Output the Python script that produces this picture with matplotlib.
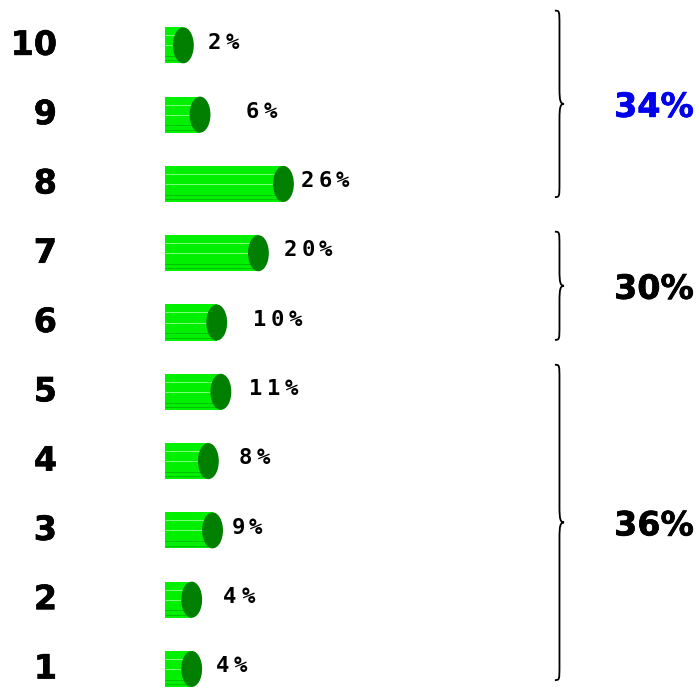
import matplotlib
matplotlib.use("Agg")
import matplotlib.pyplot as plt
import matplotlib.patheffects as pe
from matplotlib.patches import Rectangle, Ellipse, PathPatch
from matplotlib.path import Path
from matplotlib.font_manager import FontProperties

# data
rows = [1, 2, 3, 4, 5, 6, 7, 8, 9, 10]
values = [4, 4, 9, 8, 11, 10, 20, 26, 6, 2]
groups = [(8, 10), (6, 7), (1, 5)]
group_colors = ["#0000ee", "black", "black"]

# layout: extra gap between cylinder and its label, in value units
label_gap = [3.2, 5.1, 2.0, 4.7, 4.3, 6.1, 3.5, 1.6, 8.4, 3.3]
# layout: how far each brace reaches below / above its group (rows)
brace_pad = [(0.19, 0.5), (0.25, 0.31), (0.16, 0.39)]

BODY = "#00f000"
LIGHT = "#7dff7d"
DARK = "#00c000"
CAP = "#007f00"
bar_h = 0.52
cap_w = 5.0

big = FontProperties(family="DejaVu Sans", weight="bold", size=24)
small = FontProperties(family="DejaVu Sans Mono", weight="bold", size=16)


def heavy(color, lw):
    return [pe.withStroke(linewidth=lw, foreground=color)]


def draw_cylinder(ax, row, val):
    y0 = row - bar_h / 2
    ax.add_patch(Rectangle((-cap_w / 2, y0), val + cap_w / 2, bar_h,
                           facecolor=BODY, edgecolor="none", zorder=2))
    for f, c in [(0.22, LIGHT), (0.5, LIGHT), (0.8, DARK), (0.92, DARK)]:
        ax.plot([-cap_w / 2, val], [y0 + bar_h * (1 - f)] * 2, color=c,
                lw=0.7, zorder=3, solid_capstyle="butt")
    ax.add_patch(Ellipse((val, row), cap_w, bar_h, facecolor=CAP,
                         edgecolor="none", zorder=4))


def draw_spaced(ax, x, y, text, stride=12.8):
    for i, ch in enumerate(text):
        ax.annotate(ch, (x, y), xytext=(i * stride, 0), textcoords="offset points",
                    ha="left", va="center", fontproperties=small)


def draw_brace(ax, x, y0, y1, w=2.2):
    xe, xs, xt = x, x + w * 0.5, x + w
    ym = (y0 + y1) / 2
    d = 0.22
    verts = [(xe, y1), (xs, y1), (xs, y1), (xs, y1 - d),
             (xs, ym + d),
             (xs, ym + 0.05), (xs + 0.2, ym), (xt, ym),
             (xs + 0.2, ym), (xs, ym - 0.05), (xs, ym - d),
             (xs, y0 + d),
             (xs, y0), (xs, y0), (xe, y0)]
    codes = [Path.MOVETO, Path.CURVE4, Path.CURVE4, Path.CURVE4,
             Path.LINETO,
             Path.CURVE4, Path.CURVE4, Path.CURVE4,
             Path.CURVE4, Path.CURVE4, Path.CURVE4,
             Path.LINETO,
             Path.CURVE4, Path.CURVE4, Path.CURVE4]
    ax.add_patch(PathPatch(Path(verts, codes), facecolor="none",
                           edgecolor="black", lw=1.3, zorder=5))


fig = plt.figure(figsize=(6.99, 6.87), dpi=100)
ax = fig.add_axes([0, 0, 1, 1])
ax.set_xlim(-41.97, 125.66)
ax.set_ylim(0.74, 10.654)
ax.axis("off")

for r, v, g in zip(rows, values, label_gap):
    draw_cylinder(ax, r, v)
    ax.text(-28.3, r, str(r), ha="right", va="center", fontproperties=big,
            path_effects=heavy("black", 0.5))
    draw_spaced(ax, v + cap_w / 2 + g, r + 0.04, f"{v}%")

for (lo, hi), (plo, phi), col in zip(groups, brace_pad, group_colors):
    total = sum(v for r, v in zip(rows, values) if lo <= r <= hi)
    draw_brace(ax, 91.1, lo - plo, hi + phi)
    ax.text(105.3, (lo - plo + hi + phi) / 2 - 0.05, f"{total}%", ha="left",
            va="center", color=col, fontproperties=big,
            path_effects=heavy(col, 0.5))

fig.savefig("out.png", dpi=100)
